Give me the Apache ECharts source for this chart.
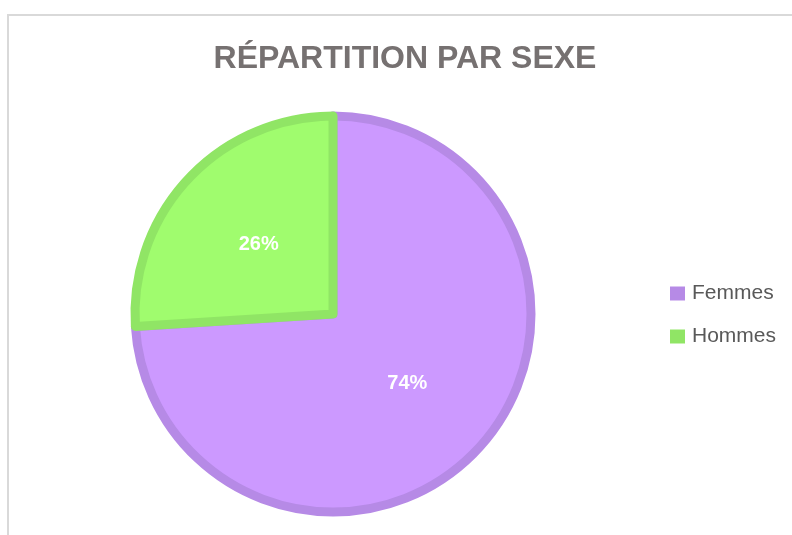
<!DOCTYPE html>
<html>
<head>
<meta charset="utf-8">
<script src="https://cdn.jsdelivr.net/npm/echarts@6/dist/echarts.min.js"></script>
<style>
    body { margin: 0; background: #fff; }
    #frame {
        position: absolute; left: 7px; top: 14px; width: 800px; height: 540px;
        border-top: 2px solid #d9d9d9; border-left: 2px solid #d9d9d9;
    }
    #chart { position: absolute; left: 0; top: 0; width: 792px; height: 535px; }
</style>
</head>
<body>
<div id="frame"></div>
<div id="chart"></div>
<script>
// donnees du graphique
const categories = ["Femmes", "Hommes"]
const pourcentages = [74, 26]
const couleurs = ["#cc99ff", "#a0fc6e"]
const couleursBord = ["#b68ae6", "#90e565"]

var chart = echarts.init(document.getElementById('chart'))

let donnees = categories.map((nom, i) => {
    return {
        name: nom,
        value: pourcentages[i],
        itemStyle: { color: couleurs[i], borderColor: couleursBord[i] }
    }
})

option = {
    animation: false,
    title: {
        text: 'RÉPARTITION PAR SEXE',
        top: 38,
        left: 400,
        textAlign: 'center',
        textStyle: {
            fontFamily: 'Liberation Sans',
            fontWeight: 'bold',
            fontSize: 32,
            color: '#767171'
        }
    },
    legend: {
        orient: 'vertical',
        left: 665,
        top: 278,
        itemWidth: 15,
        itemHeight: 14,
        itemGap: 22,
        icon: 'rect',
        data: categories.map((nom, i) => ({ name: nom, itemStyle: { color: couleursBord[i], borderWidth: 0 } })),
        textStyle: {
            fontFamily: 'Liberation Sans',
            fontSize: 21,
            color: '#595959',
            padding: [0, 0, 0, 2]
        }
    },
    series: [
        {
            name: 'Sexe',
            type: 'pie',
            center: [333, 314],
            radius: 198,
            startAngle: 90,
            clockwise: true,
            itemStyle: { borderWidth: 9 },
            label: {
                show: true,
                position: 'inside',
                formatter: '{c}%',
                fontFamily: 'Liberation Sans',
                fontWeight: 'bold',
                fontSize: 20,
                color: '#ffffff'
            },
            labelLine: { show: false },
            emphasis: { disabled: true },
            data: donnees
        }
    ]
}
chart.setOption(option)
</script>
</body>
</html>
